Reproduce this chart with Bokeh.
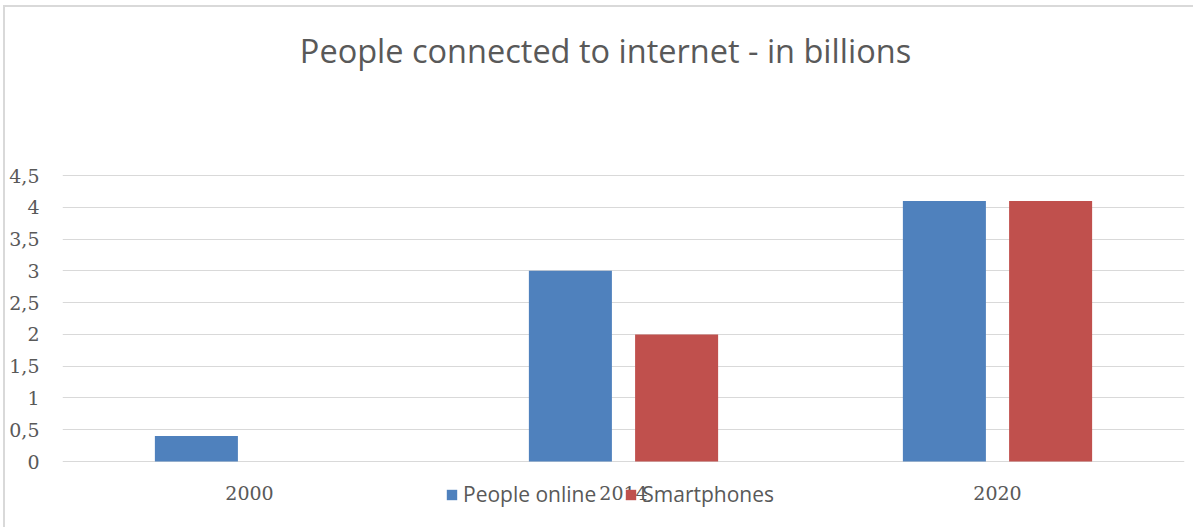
from bokeh.plotting import figure
from bokeh.models import FactorRange, Range1d, Legend, LegendItem, Label, FixedTicker, CustomJSTickFormatter
from bokeh.transform import dodge
from bokeh.core.properties import value
from bokeh.embed import file_html
from bokeh.resources import INLINE

categories = ["2000", "2014", "2020"]
people_online = [0.4, 3.0, 4.1]
smartphones = [0.0, 2.0, 4.1]
y_ticks = [0, 0.5, 1, 1.5, 2, 2.5, 3, 3.5, 4, 4.5]

GRAY = "#595959"
BLUE = "#4F81BD"
RED = "#C0504D"

# pixel layout: y=0 at page row 461, y=4.5 at page row 175; frame spans rows 7..529
PX_PER_UNIT = (461 - 175) / 4.5
Y_TOP = (461 - 7) / PX_PER_UNIT
Y_BOTTOM = -(529 - 461) / PX_PER_UNIT
LABEL_Y = -(492 - 461) / PX_PER_UNIT

p = figure(width=1190, height=522, x_range=FactorRange(*categories), y_range=Range1d(Y_BOTTOM, Y_TOP),
           output_backend="svg", toolbar_location=None, x_axis_location=None,
           min_border_left=57, min_border_right=11, min_border_top=0, min_border_bottom=0)
p.styles = {"border-top": "2px solid #d9d9d9", "border-left": "2px solid #d9d9d9",
            "margin-top": "5px", "margin-left": "3px"}
p.outline_line_color = None
p.background_fill_color = "white"
p.border_fill_color = "white"

src = dict(cat=categories, po=people_online, sp=smartphones)
r1 = p.vbar(x=dodge("cat", -0.142, range=p.x_range), top="po", width=0.222, source=src,
            fill_color=BLUE, line_color=None)
r2 = p.vbar(x=dodge("cat", 0.142, range=p.x_range), top="sp", width=0.222, source=src,
            fill_color=RED, line_color=None)

# category labels (x axis)
p.text(x="cat", y=LABEL_Y, text="cat", source=src, text_align="center", text_baseline="middle",
       text_font=value("DejaVu Serif"), text_font_size="19px", text_color=GRAY)

p.yaxis.ticker = FixedTicker(ticks=y_ticks)
p.yaxis.formatter = CustomJSTickFormatter(code="return String(tick).replace('.', ',');")
p.yaxis.axis_line_color = None
p.yaxis.major_tick_line_color = None
p.yaxis.minor_tick_line_color = None
p.yaxis.major_label_text_color = GRAY
p.yaxis.major_label_text_font = "DejaVu Serif"
p.yaxis.major_label_text_font_size = "19px"
p.yaxis.major_label_standoff = 17
p.xgrid.grid_line_color = None
p.ygrid.grid_line_color = "#d9d9d9"
p.ygrid.grid_line_width = 1

title = Label(x=543, y=529 - 50, x_units="screen", y_units="screen",
              text="People connected to internet - in billions",
              text_font="Open Sans", text_font_size="32.5px", text_color=GRAY,
              text_align="center", text_baseline="middle")
p.add_layout(title)

legend = Legend(items=[LegendItem(label="People online", renderers=[r1]),
                       LegendItem(label="Smartphones", renderers=[r2])],
                orientation="horizontal", location=(383, 21),
                label_text_font="Open Sans", label_text_font_size="21px", label_text_color=GRAY,
                glyph_width=13, glyph_height=13, spacing=28, label_standoff=5,
                background_fill_alpha=0, border_line_color=None, padding=0, margin=0)
p.add_layout(legend, "center")

open("out.html", "w").write(file_html(p, INLINE))
